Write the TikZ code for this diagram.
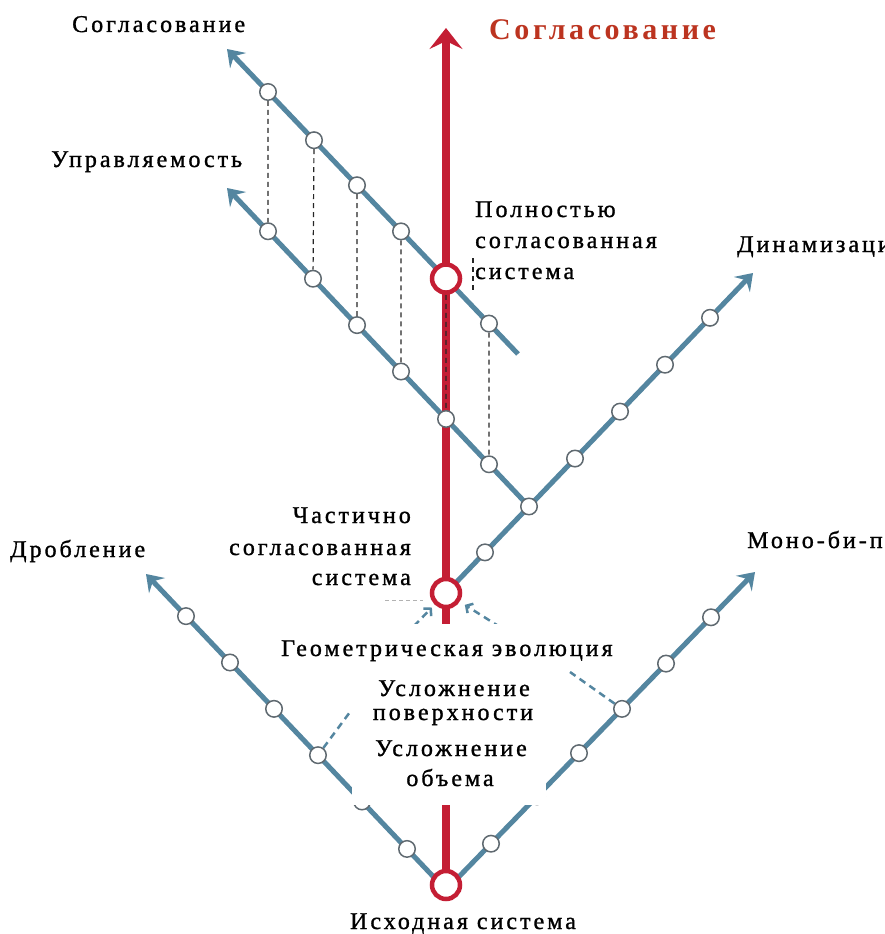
\documentclass[tikz,border=0pt]{standalone}
\usepackage{fontspec}
\setmainfont{Liberation Serif}
\newfontfamily\lblfont{Liberation Serif}[LetterSpace=12.5,FakeBold=1.2]
\newfontfamily\ttlfont{Liberation Serif Bold}[LetterSpace=12]
\usetikzlibrary{arrows.meta,calc}
\definecolor{lineblue}{RGB}{84,134,160}
\definecolor{spinered}{RGB}{196,30,52}
\definecolor{titlered}{RGB}{188,52,32}
\definecolor{ringgray}{RGB}{95,105,112}
\pgfdeclarelayer{lines}
\pgfdeclarelayer{rings}
\pgfdeclarelayer{mask}
\pgfsetlayers{lines,rings,mask,main}
\begin{document}
\begin{tikzpicture}[x=1pt,y=-1pt,
  stop/.style={circle,draw=ringgray,fill=white,line width=1.5pt,minimum size=16.5pt,inner sep=0pt},
  hub/.style={circle,draw=spinered,fill=white,line width=4.5pt,minimum size=28pt,inner sep=0pt},
  track/.style={draw=lineblue,line width=5pt},
  trackarrow/.style={track,-{Stealth[length=16pt,width=22pt,inset=6pt]}},
  spine/.style={draw=spinered,line width=8pt,-{Stealth[length=21pt,width=33pt,inset=8pt]}},
  tie/.style={draw=black!85,line width=1.2pt,dash pattern=on 5pt off 4pt},
  hint/.style={draw=lineblue,line width=2.5pt,dash pattern=on 7pt off 5pt},
  hintarrow/.style={hint,-{Straight Barb[length=5pt,width=11pt]}},
  faint/.style={draw=black!30,line width=0.8pt,dash pattern=on 4pt off 3pt},
  lbl/.style={inner sep=0pt,font=\lblfont\fontsize{24}{30}\selectfont},
  ttl/.style={inner sep=0pt,text=titlered,font=\ttlfont\fontsize{30}{36}\selectfont}]
\useasboundingbox (0,0) rectangle (885,934);

% end points of the tracks
\coordinate (V0) at (446,890);
\coordinate (Ltip) at (146,574);
\coordinate (Rtip) at (755,572);
\coordinate (Dtip) at (753,273);
\coordinate (Atip) at (227,49);
\coordinate (Aend) at (518,354);
\coordinate (Btip) at (227,188);
\coordinate (Stip) at (446,28);
\coordinate (Lhint) at (350,712);
\coordinate (Rhint) at (570,672);
\coordinate (Larr) at (414,626);
\coordinate (Rarr) at (500,627);
\coordinate (G1) at (385,600);
\coordinate (G2) at (423,600);
\coordinate (K1) at (473,258);
\coordinate (K2) at (473,291);

% stations
\begin{pgfonlayer}{rings}
  \node[hub] (S0) at (446,885) {};
  \node[hub] (S1) at (446,593) {};
  \path (V0) -- (Ltip)
    node[stop,pos=.13] (L1) {} node[stop,pos=.28] (L2) {}
    node[stop,pos=.4267] (L3) {} node[stop,pos=.5733] (L4) {}
    node[stop,pos=.72] (L5) {} node[stop,pos=.8667] (L6) {};
  \path (V0) -- (Rtip)
    node[stop,pos=.1456] (R1) {} node[stop,pos=.2945] (R2) {}
    node[stop,pos=.4304] (R3) {} node[stop,pos=.5696] (R4) {}
    node[stop,pos=.712] (R5) {} node[stop,pos=.8576] (R6) {};
  \path (S1.center) -- (Dtip)
    node[stop,pos=.127] (D1) {} node[stop,pos=.2704] (D2) {}
    node[stop,pos=.4202] (D3) {} node[stop,pos=.5668] (D4) {}
    node[stop,pos=.7134] (D5) {} node[stop,pos=.86] (D6) {};
  \path (Atip) -- (Aend)
    node[stop,pos=.1409] (A1) {} node[stop,pos=.299] (A2) {}
    node[stop,pos=.4467] (A3) {} node[stop,pos=.598] (A4) {}
    node[hub,pos=.7526] (S2) {} node[stop,pos=.9003] (A6) {};
  \path (Btip) -- (D2.center)
    node[stop,pos=.1358] (B1) {} node[stop,pos=.2848] (B2) {}
    node[stop,pos=.4305] (B3) {} node[stop,pos=.5762] (B4) {}
    node[stop,pos=.7252] (B5) {} node[stop,pos=.8675] (B6) {};
\end{pgfonlayer}

% tracks and ties
\begin{pgfonlayer}{lines}
  \draw[trackarrow] (V0) -- (Ltip);
  \draw[trackarrow] (V0) -- (Rtip);
  \draw[trackarrow] (S1.center) -- (Dtip);
  \draw[trackarrow] (Aend) -- (Atip);
  \draw[trackarrow] (D2.center) -- (Btip);
  \draw[spine] (S0.center) -- (Stip);
  \draw[tie] (A1) -- (B1);
  \draw[tie] (A2) -- (B2);
  \draw[tie] (A3) -- (B3);
  \draw[tie] (A4) -- (B4);
  \draw[tie] (S2) -- (B5);
  \draw[tie] (A6) -- (B6);
  \draw[tie] (K1) -- (K2);
  \draw[hint] (L3) -- (Lhint);
  \draw[hint] (R4) -- (Rhint);
  \draw[hintarrow,shorten >=4pt] (Larr) -- (S1);
  \draw[hintarrow,shorten >=6pt] (Rarr) -- (S1);
  \draw[faint] (G1) -- (G2);
\end{pgfonlayer}

% blank panel behind the lower captions
\begin{pgfonlayer}{mask}
  \fill[white] (352,624) rectangle (546,805);
\end{pgfonlayer}

% captions
\node[ttl,anchor=base west] (title) at (489,40) {Согласование};
\node[lbl,anchor=base west] (cA) at (72,32) {Согласование};
\node[lbl,anchor=base west] (cB) at (51,167) {Управляемость};
\node[lbl,anchor=base west] (p1) at (475,217) {Полностью};
\node[lbl,anchor=base west] (p2) at (475,248) {согласованная};
\node[lbl,anchor=base west] (p3) at (475,279) {система};
\node[lbl,anchor=base west] (cD) at (737,252) {Динамизация};
\node[lbl,anchor=base east] (q1) at (411,523) {Частично};
\node[lbl,anchor=base east] (q2) at (411,555) {согласованная};
\node[lbl,anchor=base east] (q3) at (411,585) {система};
\node[lbl,anchor=base west] (cL) at (10,557) {Дробление};
\node[lbl,anchor=base west] (cR) at (747,548) {Моно-би-поли};
\node[lbl,anchor=base west] (g) at (281,656) {Геометрическая эволюция};
\node[lbl,anchor=base] (u1) at (454,696) {Усложнение};
\node[lbl,anchor=base] (u2) at (453,720) {поверхности};
\node[lbl,anchor=base] (v1) at (451,756) {Усложнение};
\node[lbl,anchor=base] (v2) at (450,786) {объема};
\node[lbl,anchor=base] (src) at (463,929) {Исходная система};
\end{tikzpicture}
\end{document}
